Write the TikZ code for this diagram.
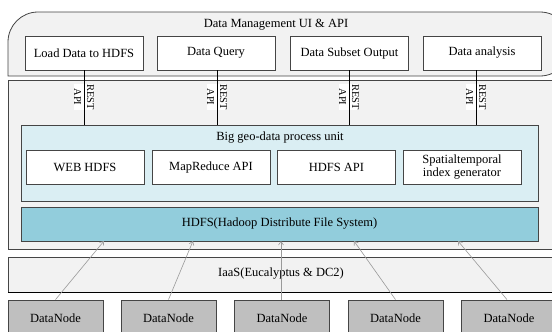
\documentclass[tikz,border=0pt]{standalone}
\usepackage{fontspec}
\setmainfont{Liberation Serif}
\usetikzlibrary{arrows.meta}
\definecolor{panelfill}{HTML}{F2F2F2}
\definecolor{edge}{HTML}{454545}
\definecolor{geofill}{HTML}{DAEEF3}
\definecolor{hdfsfill}{HTML}{92CDDC}
\definecolor{nodefill}{HTML}{BFBFBF}
\definecolor{feed}{HTML}{9A9A9A}
\tikzset{
  x=1pt, y=-1pt,
  every node/.style={font=\fontsize{12.5}{14}\selectfont, inner sep=0pt},
  panel/.style={draw=edge, line width=0.8pt, fill=panelfill},
  uibox/.style={draw=edge, line width=0.8pt, fill=white, minimum width=118pt, minimum height=34pt, align=center},
  geobox/.style={draw=edge, line width=0.8pt, fill=geofill, minimum width=517pt, minimum height=76pt},
  hdfsbox/.style={draw=edge, line width=0.8pt, fill=hdfsfill, minimum width=517pt, minimum height=34pt},
  datanode/.style={draw=edge, line width=0.8pt, fill=nodefill, minimum width=95pt, minimum height=36pt},
  restlabel/.style={rotate=-90, align=center, fill=white, font=\fontsize{10.5}{13}\selectfont, inner sep=0.5pt},
  restline/.style={draw=black, line width=0.6pt},
  feedline/.style={draw=feed, line width=0.6pt, -{Straight Barb[length=3.5pt,width=5pt]}},
}
\begin{document}
\begin{tikzpicture}
\useasboundingbox (0,0) rectangle (552,332);
\clip (0,0) rectangle (552,332);

% layer panels
\draw[panel] (8,76) [rounded corners=30pt] -- (8,12) -- (570,12) -- (570,76) [sharp corners] -- cycle;
\node (uititle) at (276,25) {Data Management UI \& API};
\draw[panel] (8,80) rectangle (570,249);
\draw[panel] (8,257) rectangle (570,292);
\draw[black, line width=0.8pt] (8,292) -- (570,292);
\node (iaas) at (281,274) {IaaS(Eucalyptus \& DC2)};

% user interface functions
\node[uibox] (load) at (84,53) {Load Data to HDFS};
\node[uibox] (query) at (216,53) {Data Query};
\node[uibox] (subset) at (349.5,53) {Data Subset Output};
\node[uibox] (analysis) at (482,53) {Data analysis};

% processing unit
\node[geobox] (geo) at (279.5,163) {};
\node (geotitle) at (280,138) {Big geo-data process unit};
\node[uibox] (web) at (85,167) {WEB HDFS};
\node[uibox] (mapred) at (211,167) {MapReduce API};
\node[uibox] (hapi) at (336.5,167) {HDFS API};
\node[uibox, font=\fontsize{12.5}{13.5}\selectfont] (index) at (462,167) {Spatialtemporal\\index generator};
\node[hdfsbox] (hdfs) at (279.5,224) {HDFS(Hadoop Distribute File System)};

% REST API links
\node[restlabel] (rest1) at (84,97) {REST\\API};
\node[restlabel] (rest2) at (217,97) {REST\\API};
\node[restlabel] (rest3) at (349,97) {REST\\API};
\node[restlabel] (rest4) at (476,97) {REST\\API};
\draw[restline] (load.south) -- (load.south |- geo.north);
\draw[restline] ([xshift=1pt]query.south) -- ([xshift=1pt]query.south |- geo.north);
\draw[restline] ([xshift=-0.5pt]subset.south) -- ([xshift=-0.5pt]subset.south |- geo.north);
\draw[restline] ([xshift=-6pt]analysis.south) -- ([xshift=-6pt]analysis.south |- geo.north);

% data nodes
\node[datanode] (dn1) at (55.5,318) {DataNode};
\node[datanode] (dn2) at (168.5,318) {DataNode};
\node[datanode] (dn3) at (282,318) {DataNode};
\node[datanode] (dn4) at (395.5,318) {DataNode};
\node[datanode] (dn5) at (509,318) {DataNode};

% storage feeds into HDFS
\coordinate (h1) at (104,241);
\coordinate (h2) at (193,241);
\coordinate (h3) at (281,241);
\coordinate (h4) at (354,241);
\coordinate (h5) at (458,241);
\draw[feedline] (dn1.north) -- (h1);
\draw[feedline] (dn2.north) -- (h2);
\draw[feedline] ([xshift=-1pt]dn3.north) -- (h3);
\draw[feedline] (dn4.north) -- (h4);
\draw[feedline] ([xshift=-2pt]dn5.north) -- (h5);
\end{tikzpicture}
\end{document}
